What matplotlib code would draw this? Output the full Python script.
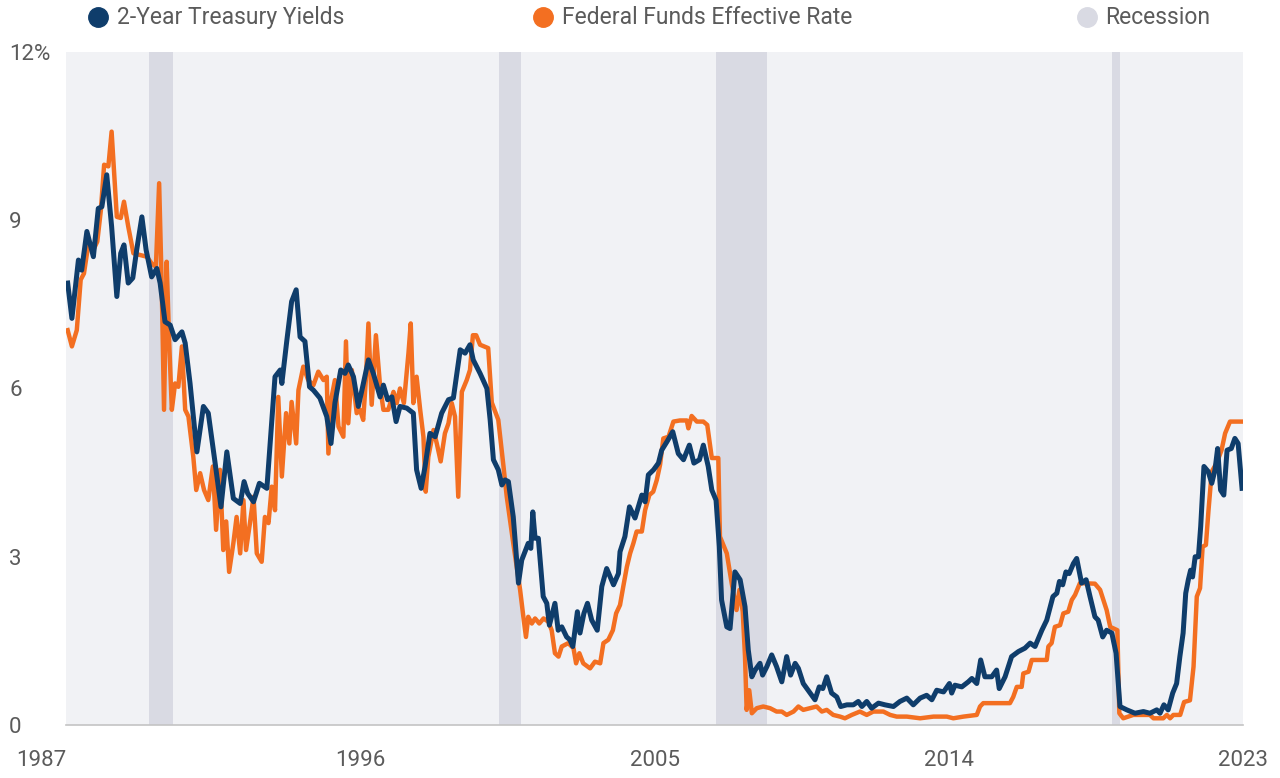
import numpy as np
import matplotlib.pyplot as plt
from matplotlib.lines import Line2D

plt.rcParams['font.family'] = ['Roboto', 'DejaVu Sans']

# 2-year treasury yield (%)
t2y_dates = [1988.00, 1988.13, 1988.33, 1988.43, 1988.59, 1988.79, 1988.94, 1989.05, 1989.20, 1989.35,
             1989.51, 1989.63, 1989.73, 1989.86, 1990.00, 1990.12, 1990.28, 1990.41, 1990.58, 1990.74,
             1990.84, 1990.99, 1991.15, 1991.30, 1991.51, 1991.61, 1991.76, 1991.97, 1992.17, 1992.32,
             1992.53, 1992.71, 1992.89, 1993.09, 1993.30, 1993.42, 1993.53, 1993.71, 1993.89, 1994.12,
             1994.37, 1994.53, 1994.58, 1994.73, 1994.88, 1995.02, 1995.14, 1995.29, 1995.43, 1995.55,
             1995.75, 1995.96, 1996.09, 1996.21, 1996.39, 1996.52, 1996.62, 1996.78, 1996.93, 1997.04,
             1997.24, 1997.39, 1997.60, 1997.70, 1997.83, 1997.96, 1998.09, 1998.21, 1998.42, 1998.62,
             1998.72, 1998.86, 1998.98, 1999.13, 1999.29, 1999.49, 1999.70, 1999.85, 2000.06, 2000.21,
             2000.36, 2000.46, 2000.67, 2000.88, 2000.98, 2001.08, 2001.23, 2001.34, 2001.44, 2001.54,
             2001.69, 2001.85, 2001.95, 2002.15, 2002.23, 2002.29, 2002.36, 2002.46, 2002.61, 2002.72,
             2002.80, 2002.97, 2003.07, 2003.18, 2003.33, 2003.43, 2003.52, 2003.66, 2003.74, 2003.86,
             2003.97, 2004.10, 2004.27, 2004.41, 2004.56, 2004.77, 2004.92, 2004.97, 2005.12, 2005.26,
             2005.43, 2005.64, 2005.74, 2005.84, 2006.00, 2006.15, 2006.25, 2006.41, 2006.59, 2006.76,
             2006.92, 2007.10, 2007.24, 2007.41, 2007.53, 2007.68, 2007.79, 2007.92, 2008.02, 2008.09,
             2008.25, 2008.35, 2008.50, 2008.66, 2008.81, 2008.91, 2009.02, 2009.12, 2009.27, 2009.35,
             2009.48, 2009.63, 2009.78, 2009.94, 2010.09, 2010.21, 2010.35, 2010.45, 2010.60, 2010.81,
             2010.96, 2011.09, 2011.20, 2011.32, 2011.47, 2011.63, 2011.75, 2011.94, 2012.14, 2012.29,
             2012.40, 2012.55, 2012.70, 2012.91, 2013.11, 2013.37, 2013.57, 2013.78, 2013.98, 2014.19,
             2014.39, 2014.55, 2014.70, 2014.91, 2015.09, 2015.16, 2015.26, 2015.47, 2015.67, 2015.78,
             2015.93, 2016.05, 2016.18, 2016.39, 2016.54, 2016.62, 2016.80, 2017.00, 2017.21, 2017.41,
             2017.57, 2017.72, 2017.93, 2018.08, 2018.27, 2018.39, 2018.47, 2018.57, 2018.67, 2018.77,
             2018.90, 2019.00, 2019.15, 2019.29, 2019.41, 2019.56, 2019.66, 2019.80, 2019.92, 2020.08,
             2020.21, 2020.33, 2020.54, 2020.79, 2021.05, 2021.25, 2021.46, 2021.56, 2021.68, 2021.81,
             2021.95, 2022.07, 2022.17, 2022.27, 2022.35, 2022.43, 2022.50, 2022.56, 2022.64, 2022.74,
             2022.81, 2022.91, 2023.04, 2023.15, 2023.25, 2023.33, 2023.42, 2023.52, 2023.62, 2023.75,
             2023.86, 2023.96, 2024.08]
t2y_vals = [7.88, 7.25, 8.29, 8.11, 8.80, 8.35, 9.21, 9.24, 9.81, 8.89,
            7.64, 8.41, 8.56, 7.88, 7.97, 8.47, 9.06, 8.47, 7.99, 8.14,
            7.88, 7.19, 7.13, 6.87, 7.01, 6.81, 6.09, 4.87, 5.68, 5.56,
            4.67, 3.89, 4.87, 4.04, 3.95, 4.34, 4.13, 3.98, 4.31, 4.22,
            6.21, 6.33, 6.09, 6.84, 7.55, 7.76, 6.92, 6.84, 6.03, 5.97,
            5.83, 5.50, 5.02, 5.74, 6.33, 6.27, 6.42, 6.21, 5.68, 5.97,
            6.51, 6.27, 5.85, 6.06, 5.80, 5.85, 5.41, 5.68, 5.65, 5.56,
            4.55, 4.22, 4.61, 5.20, 5.14, 5.56, 5.80, 5.83, 6.69, 6.63,
            6.78, 6.51, 6.27, 6.00, 5.44, 4.73, 4.55, 4.28, 4.37, 4.34,
            3.71, 2.53, 2.94, 3.24, 3.15, 3.80, 3.33, 3.33, 2.29, 2.17,
            1.78, 2.17, 1.69, 1.75, 1.57, 1.52, 1.40, 2.02, 1.64, 1.99,
            2.17, 1.87, 1.69, 2.47, 2.79, 2.50, 2.70, 3.09, 3.36, 3.89,
            3.69, 4.10, 3.98, 4.46, 4.55, 4.67, 4.90, 5.05, 5.23, 4.84,
            4.73, 4.99, 4.67, 4.73, 4.99, 4.61, 4.19, 4.01, 3.18, 2.23,
            1.75, 1.72, 2.73, 2.59, 2.11, 1.34, 0.86, 0.98, 1.10, 0.89,
            1.04, 1.25, 1.04, 0.77, 1.22, 0.89, 1.10, 1.01, 0.74, 0.57,
            0.45, 0.68, 0.65, 0.86, 0.57, 0.50, 0.33, 0.36, 0.36, 0.42,
            0.33, 0.42, 0.30, 0.39, 0.36, 0.33, 0.42, 0.48, 0.36, 0.48,
            0.53, 0.45, 0.62, 0.59, 0.74, 0.57, 0.71, 0.68, 0.77, 0.83,
            0.74, 1.16, 0.86, 0.86, 0.98, 0.65, 0.86, 1.22, 1.31, 1.37,
            1.46, 1.40, 1.69, 1.87, 2.29, 2.35, 2.56, 2.50, 2.73, 2.70,
            2.88, 2.97, 2.53, 2.59, 2.29, 1.93, 1.87, 1.57, 1.69, 1.64,
            1.28, 0.33, 0.27, 0.21, 0.24, 0.21, 0.27, 0.21, 0.36, 0.27,
            0.57, 0.74, 1.22, 1.64, 2.35, 2.59, 2.76, 2.64, 3.00, 3.00,
            3.54, 4.61, 4.52, 4.31, 4.55, 4.93, 4.19, 4.10, 4.90, 4.93,
            5.11, 5.02, 4.22]

# federal funds effective rate (%)
ffr_dates = [1988.00, 1988.13, 1988.28, 1988.40, 1988.50, 1988.64, 1988.79, 1988.91, 1989.02, 1989.12,
             1989.25, 1989.35, 1989.51, 1989.63, 1989.73, 1989.86, 1990.02, 1990.22, 1990.43, 1990.58,
             1990.71, 1990.81, 1990.89, 1990.96, 1991.04, 1991.12, 1991.20, 1991.30, 1991.40, 1991.51,
             1991.61, 1991.71, 1991.86, 1991.95, 1992.07, 1992.19, 1992.32, 1992.46, 1992.56, 1992.68,
             1992.78, 1992.87, 1992.96, 1993.09, 1993.19, 1993.30, 1993.40, 1993.48, 1993.60, 1993.71,
             1993.81, 1993.96, 1994.06, 1994.17, 1994.27, 1994.37, 1994.47, 1994.58, 1994.71, 1994.81,
             1994.88, 1995.02, 1995.09, 1995.24, 1995.39, 1995.55, 1995.70, 1995.86, 1995.96, 1996.01,
             1996.11, 1996.21, 1996.32, 1996.47, 1996.55, 1996.62, 1996.73, 1996.88, 1996.98, 1997.08,
             1997.16, 1997.24, 1997.34, 1997.47, 1997.60, 1997.70, 1997.85, 1998.01, 1998.11, 1998.21,
             1998.33, 1998.47, 1998.54, 1998.62, 1998.72, 1998.83, 1998.93, 1999.00, 1999.08, 1999.24,
             1999.34, 1999.46, 1999.59, 1999.70, 1999.80, 1999.90, 2000.00, 2000.11, 2000.26, 2000.36,
             2000.45, 2000.55, 2000.67, 2000.92, 2001.03, 2001.23, 2001.39, 2001.49, 2001.69, 2001.90,
             2002.00, 2002.08, 2002.15, 2002.26, 2002.36, 2002.49, 2002.62, 2002.77, 2002.87, 2002.97,
             2003.08, 2003.18, 2003.38, 2003.54, 2003.62, 2003.72, 2003.84, 2004.05, 2004.20, 2004.36,
             2004.46, 2004.61, 2004.75, 2004.85, 2004.97, 2005.07, 2005.18, 2005.28, 2005.38, 2005.48,
             2005.64, 2005.74, 2005.87, 2005.99, 2006.10, 2006.20, 2006.30, 2006.46, 2006.61, 2006.81,
             2007.02, 2007.07, 2007.17, 2007.33, 2007.53, 2007.65, 2007.79, 2007.99, 2008.04, 2008.25,
             2008.40, 2008.55, 2008.64, 2008.74, 2008.81, 2008.86, 2008.94, 2009.02, 2009.17, 2009.37,
             2009.58, 2009.78, 2009.94, 2010.09, 2010.30, 2010.45, 2010.60, 2010.81, 2011.01, 2011.17,
             2011.32, 2011.52, 2011.73, 2011.88, 2012.09, 2012.34, 2012.55, 2012.75, 2013.06, 2013.27,
             2013.47, 2013.78, 2014.19, 2014.60, 2015.01, 2015.21, 2015.52, 2015.93, 2016.03, 2016.13,
             2016.95, 2017.05, 2017.16, 2017.31, 2017.36, 2017.52, 2017.62, 2018.08, 2018.13, 2018.23,
             2018.33, 2018.49, 2018.59, 2018.74, 2018.85, 2018.95, 2019.10, 2019.56, 2019.72, 2019.82,
             2019.92, 2020.03, 2020.25, 2020.31, 2020.43, 2020.74, 2021.25, 2021.36, 2021.66, 2021.77,
             2021.87, 2021.97, 2022.18, 2022.30, 2022.48, 2022.59, 2022.69, 2022.79, 2022.87, 2022.97,
             2023.05, 2023.15, 2023.30, 2023.45, 2023.56, 2023.71, 2024.12]
ffr_vals = [7.04, 6.75, 7.04, 7.94, 8.05, 8.59, 8.47, 8.62, 9.18, 9.99,
            9.96, 10.58, 9.06, 9.04, 9.33, 8.89, 8.41, 8.38, 8.35, 8.23,
            8.17, 9.66, 7.82, 5.62, 8.26, 6.81, 5.62, 6.09, 6.03, 6.75,
            5.62, 5.50, 4.78, 4.19, 4.49, 4.19, 4.01, 4.61, 3.48, 4.55,
            3.12, 3.63, 2.73, 3.24, 3.71, 3.06, 4.01, 3.12, 3.60, 4.07,
            3.06, 2.91, 3.71, 3.60, 4.25, 3.83, 5.85, 4.43, 5.56, 5.02,
            5.76, 5.02, 5.97, 6.39, 6.15, 6.06, 6.30, 6.15, 6.21, 4.84,
            5.85, 6.15, 5.32, 5.14, 6.84, 5.38, 6.33, 5.56, 5.62, 5.44,
            6.15, 7.16, 5.71, 6.95, 6.03, 5.62, 5.62, 5.94, 5.74, 6.00,
            5.74, 6.63, 7.16, 5.74, 6.21, 5.62, 5.14, 4.16, 4.78, 5.26,
            5.02, 4.70, 5.20, 5.38, 5.74, 5.50, 4.07, 5.94, 6.15, 6.33,
            6.95, 6.95, 6.78, 6.72, 5.75, 5.44, 4.61, 4.07, 3.24, 2.41,
            1.93, 1.57, 1.93, 1.81, 1.90, 1.81, 1.90, 1.84, 1.69, 1.28,
            1.22, 1.40, 1.46, 1.37, 1.10, 1.28, 1.10, 1.01, 1.13, 1.10,
            1.46, 1.52, 1.69, 1.99, 2.14, 2.47, 2.82, 3.06, 3.24, 3.45,
            3.45, 3.83, 4.10, 4.16, 4.37, 4.64, 5.11, 5.14, 5.41, 5.43,
            5.43, 5.29, 5.51, 5.41, 5.41, 5.35, 4.76, 4.76, 3.36, 3.06,
            2.53, 2.05, 2.41, 2.02, 1.22, 0.27, 0.62, 0.21, 0.30, 0.33,
            0.30, 0.24, 0.24, 0.18, 0.24, 0.33, 0.27, 0.30, 0.33, 0.24,
            0.27, 0.18, 0.15, 0.12, 0.18, 0.24, 0.18, 0.24, 0.24, 0.18,
            0.15, 0.15, 0.12, 0.15, 0.15, 0.12, 0.15, 0.18, 0.33, 0.39,
            0.39, 0.50, 0.68, 0.68, 0.92, 0.95, 1.16, 1.16, 1.40, 1.46,
            1.75, 1.78, 1.99, 2.02, 2.23, 2.32, 2.53, 2.52, 2.41, 2.23,
            2.05, 1.75, 1.69, 0.21, 0.12, 0.18, 0.18, 0.12, 0.12, 0.18,
            0.12, 0.18, 0.18, 0.41, 0.44, 1.04, 2.29, 2.44, 3.18, 3.21,
            3.83, 4.52, 4.67, 4.90, 5.20, 5.41, 5.41]

rec_start = [1990.50, 2001.25, 2007.92, 2020.08]
rec_end = [1991.25, 2001.92, 2009.50, 2020.33]

year_labels = ['1987', '1996', '2005', '2014', '2023']
y_ticks = [0, 3, 6, 9, 12]
y_labels = ['0', '3', '6', '9', '12%']

navy = '#0f3d6b'
orange = '#f36f21'
rec_color = '#d9dae3'
text_color = '#5b5b5b'

fig = plt.figure(figsize=(12.8, 7.78), dpi=100)
ax = fig.add_axes([0.0516, 0.0681, 0.9195, 0.8651])
ax.set_facecolor('#f1f2f5')

for s, e in zip(rec_start, rec_end):
    ax.axvspan(s, e, color=rec_color, lw=0, zorder=1)

ax.plot(ffr_dates, ffr_vals, color=orange, lw=3.2, zorder=3, solid_joinstyle='round')
ax.plot(t2y_dates, t2y_vals, color=navy, lw=3.6, zorder=4, solid_joinstyle='round')

xmin, xmax = 1987.95, 2024.11
ax.set_xlim(xmin, xmax)
ax.set_ylim(0, 12)

for side in ['top', 'right', 'left']:
    ax.spines[side].set_visible(False)
ax.spines['bottom'].set_color('#c4c4c4')
ax.spines['bottom'].set_linewidth(1.2)

ax.set_xticks(np.linspace(xmin, xmax, 5))
ax.set_xticklabels(year_labels)
ax.tick_params(axis='x', length=0, pad=18, labelsize=16, labelcolor=text_color)
xl = ax.get_xticklabels()
xl[0].set_horizontalalignment('right')

ax.set_yticks(y_ticks)
ax.set_yticklabels(y_labels)
ax.tick_params(axis='y', length=0, pad=41, labelsize=16, labelcolor=text_color)
for lab in ax.get_yticklabels():
    lab.set_horizontalalignment('left')

# legend along the top
leg_items = [(0.0766, navy, '2-Year Treasury Yields'),
             (0.4242, orange, 'Federal Funds Effective Rate'),
             (0.849, rec_color, 'Recession')]
for xpos, col, lab in leg_items:
    fig.add_artist(Line2D([xpos], [0.978], marker='o', markersize=14, color=col,
                          linestyle='none', transform=fig.transFigure))
    fig.text(xpos + 0.0145, 0.977, lab, fontsize=16.5, color=text_color, va='center', ha='left')

fig.savefig('out.png', dpi=100)
